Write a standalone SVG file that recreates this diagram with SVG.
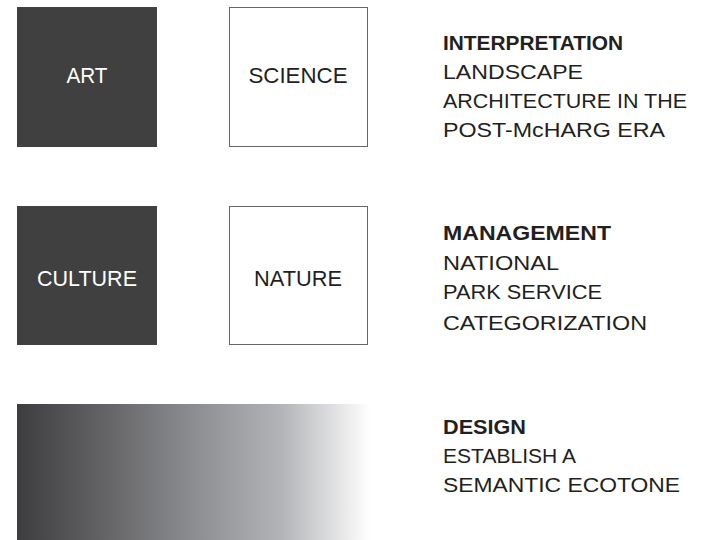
<svg xmlns="http://www.w3.org/2000/svg" width="703" height="540" viewBox="0 0 703 540">
<defs>
<linearGradient id="grad" x1="0" y1="0" x2="1" y2="0">
<stop offset="0" stop-color="#3d3d3f"/>
<stop offset="0.25" stop-color="#646466"/>
<stop offset="0.5" stop-color="#8c8d91"/>
<stop offset="0.75" stop-color="#b3b4b7"/>
<stop offset="1" stop-color="#ffffff"/>
</linearGradient>
</defs>
<style>
.dark{fill:#404040;}
.light{fill:#ffffff;stroke:#666666;stroke-width:1;}
.lbl{font-family:"Liberation Sans",Arial,sans-serif;font-size:22px;text-anchor:middle;}
.w{fill:#ffffff;}
.k{fill:#231f20;}
.head{font-family:"Liberation Sans",Arial,sans-serif;font-size:20px;font-weight:bold;fill:#231f20;}
.body{font-family:"Liberation Sans",Arial,sans-serif;font-size:20px;fill:#231f20;}
</style>
<rect width="703" height="540" fill="#ffffff"/>
<g id="art">
<rect class="dark" x="17" y="7" width="140" height="140"/>
<text class="lbl w" x="87" y="83" textLength="41" lengthAdjust="spacingAndGlyphs">ART</text>
</g>
<g id="science">
<rect class="light" x="229.5" y="7.5" width="138" height="139"/>
<text class="lbl k" x="298" y="83" textLength="99" lengthAdjust="spacingAndGlyphs">SCIENCE</text>
</g>
<g id="culture">
<rect class="dark" x="17" y="206" width="140" height="139"/>
<text class="lbl w" x="87" y="286" textLength="100" lengthAdjust="spacingAndGlyphs">CULTURE</text>
</g>
<g id="nature">
<rect class="light" x="229.5" y="206.5" width="138" height="138"/>
<text class="lbl k" x="298" y="286" textLength="88" lengthAdjust="spacingAndGlyphs">NATURE</text>
</g>
<g id="gradient">
<rect x="17" y="404" width="353" height="136" fill="url(#grad)"/>
</g>
<g id="interpretation">
<text class="head" x="443" y="50" textLength="180" lengthAdjust="spacingAndGlyphs">INTERPRETATION</text>
<text class="body" x="443" y="79" textLength="140" lengthAdjust="spacingAndGlyphs">LANDSCAPE</text>
<text class="body" x="443" y="108" textLength="244" lengthAdjust="spacingAndGlyphs">ARCHITECTURE IN THE</text>
<text class="body" x="443" y="137" textLength="222" lengthAdjust="spacingAndGlyphs">POST-McHARG ERA</text>
</g>
<g id="management">
<text class="head" x="443" y="240" textLength="168" lengthAdjust="spacingAndGlyphs">MANAGEMENT</text>
<text class="body" x="443" y="270" textLength="116" lengthAdjust="spacingAndGlyphs">NATIONAL</text>
<text class="body" x="443" y="299" textLength="159" lengthAdjust="spacingAndGlyphs">PARK SERVICE</text>
<text class="body" x="443" y="330" textLength="204" lengthAdjust="spacingAndGlyphs">CATEGORIZATION</text>
</g>
<g id="design">
<text class="head" x="443" y="434" textLength="83" lengthAdjust="spacingAndGlyphs">DESIGN</text>
<text class="body" x="443" y="463" textLength="133" lengthAdjust="spacingAndGlyphs">ESTABLISH A</text>
<text class="body" x="443" y="492" textLength="237" lengthAdjust="spacingAndGlyphs">SEMANTIC ECOTONE</text>
</g>
</svg>
